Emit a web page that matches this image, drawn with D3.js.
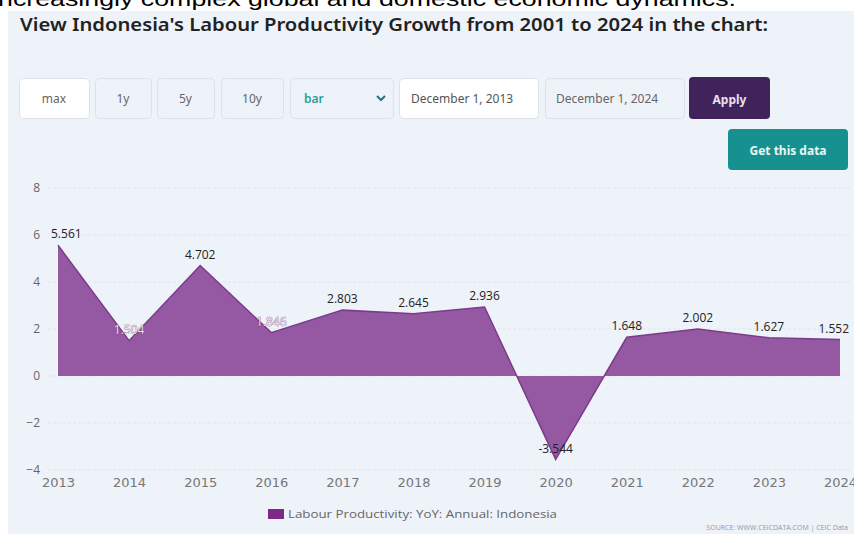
<!DOCTYPE html>
<html><head><meta charset="utf-8">
<script src="https://cdn.jsdelivr.net/npm/d3@7"></script>
<style>
html,body{margin:0;padding:0;background:#fff;}
svg{display:block;}
</style></head>
<body>
<svg id="c" width="854" height="534"></svg>
<script>
const years = ["2013","2014","2015","2016","2017","2018","2019","2020","2021","2022","2023","2024"];
const values = [5.561,1.504,4.702,1.846,2.803,2.645,2.936,-3.544,1.648,2.002,1.627,1.552];
const yTicks = [-4,-2,0,2,4,6,8];
const seriesName = "Labour Productivity: YoY: Annual: Indonesia";
const buttons = ["max","1y","5y","10y"];

const svg = d3.select("#c");
const W = 854, H = 534;

// page text cut at top
svg.append("text").attr("x",-2).attr("y",6)
  .attr("font-family","Liberation Sans, Arial").attr("font-size",21).attr("fill","#000")
  .attr("textLength",738).attr("lengthAdjust","spacingAndGlyphs")
  .text("ncreasingly complex global and domestic economic dynamics.");

// panel
svg.append("rect").attr("x",8).attr("y",11).attr("width",W-8).attr("height",H-11).attr("fill","#eef2f9");

svg.append("text").attr("x",20).attr("y",31)
  .attr("font-family","Noto Sans, Open Sans, sans-serif").attr("font-weight",600).attr("font-size",17)
  .attr("fill","#222").attr("textLength",748).attr("lengthAdjust","spacingAndGlyphs")
  .text("View Indonesia's Labour Productivity Growth from 2001 to 2024 in the chart:");

// controls
const ctrl = [
  {x:19,w:70,bg:"#fff",c:"#666"},
  {x:95,w:56,bg:"#eef2f9",c:"#666"},
  {x:157,w:57,bg:"#eef2f9",c:"#666"},
  {x:221,w:62,bg:"#eef2f9",c:"#666"},
];
ctrl.forEach((d,i)=>{
  svg.append("rect").attr("x",d.x+0.5).attr("y",78.5).attr("width",d.w).attr("height",40).attr("rx",4)
    .attr("fill",d.bg).attr("stroke","#dde2ea");
  svg.append("text").attr("x",d.x+d.w/2).attr("y",103).attr("text-anchor","middle")
    .attr("font-family","Noto Sans, sans-serif").attr("font-size",12).attr("fill",d.c).text(buttons[i]);
});
svg.append("rect").attr("x",290.5).attr("y",78.5).attr("width",103).attr("height",40).attr("rx",4)
  .attr("fill","#eef2f9").attr("stroke","#dde2ea");
svg.append("text").attr("x",304).attr("y",103).attr("font-family","Noto Sans, sans-serif")
  .attr("font-size",12).attr("font-weight",600).attr("fill","#2a9d96").text("bar");
svg.append("path").attr("d","M377,96 l4,4 l4,-4").attr("fill","none").attr("stroke","#2b6f8f").attr("stroke-width",2);

svg.append("rect").attr("x",399.5).attr("y",78.5).attr("width",139).attr("height",40).attr("rx",4)
  .attr("fill","#fff").attr("stroke","#dde2ea");
svg.append("text").attr("x",411).attr("y",103).attr("font-family","Noto Sans, sans-serif")
  .attr("font-size",12).attr("fill","#555").text("December 1, 2013");
svg.append("rect").attr("x",545.5).attr("y",78.5).attr("width",139).attr("height",40).attr("rx",4)
  .attr("fill","#eef2f9").attr("stroke","#dde2ea");
svg.append("text").attr("x",556).attr("y",103).attr("font-family","Noto Sans, sans-serif")
  .attr("font-size",12).attr("fill","#666").text("December 1, 2024");
svg.append("rect").attr("x",689).attr("y",77).attr("width",81).attr("height",42).attr("rx",4)
  .attr("fill","#40235a");
svg.append("text").attr("x",729.5).attr("y",104).attr("text-anchor","middle").attr("font-family","Noto Sans, sans-serif")
  .attr("font-size",12).attr("font-weight",700).attr("fill","#e8e0f0").text("Apply");
svg.append("rect").attr("x",728).attr("y",129).attr("width",120).attr("height",41).attr("rx",4)
  .attr("fill","#17918f");
svg.append("text").attr("x",788).attr("y",155).attr("text-anchor","middle").attr("font-family","Noto Sans, sans-serif")
  .attr("font-size",12).attr("font-weight",700).attr("fill","#e8f6f5").text("Get this data");

// chart
const x = d3.scalePoint().domain(years).range([58,840]);
const y = d3.scaleLinear().domain([-4,8]).range([470,188]);

const grid = svg.append("g");
yTicks.forEach(t=>{
  grid.append("line").attr("x1",48).attr("x2",850).attr("y1",y(t)).attr("y2",y(t))
    .attr("stroke","#e1e5ee").attr("stroke-width",1).attr("stroke-dasharray","3,2");
});

const yAxis = d3.axisLeft(y).tickValues(yTicks).tickSize(0).tickPadding(0).tickFormat(d=>d<0?"\u2212"+(-d):d);
const yg = svg.append("g").attr("transform","translate(40,0)").call(yAxis);
yg.select(".domain").remove();
yg.selectAll("text").attr("font-family","Open Sans, Noto Sans, sans-serif").attr("font-size",12).attr("fill","#666").attr("dy","0.32em");

const area = d3.area().x((d,i)=>x(years[i])).y0(y(0)).y1(d=>y(d));
svg.append("path").datum(values).attr("d",area).attr("fill","#9558a2");
const line = d3.line().x((d,i)=>x(years[i])).y(d=>y(d));
svg.append("path").datum(values).attr("d",line).attr("fill","none").attr("stroke","#7c3b8a").attr("stroke-width",1.5);

const xAxis = d3.axisBottom(x).tickSize(0).tickPadding(0);
const xg = svg.append("g").attr("transform","translate(0,478)").call(xAxis);
xg.select(".domain").remove();
xg.selectAll("text").attr("font-family","DejaVu Sans, sans-serif").attr("font-size",13).attr("fill","#777").attr("dy","0.71em");

// data labels
const light = new Set([1,3]);
values.forEach((v,i)=>{
  let xx = x(years[i]), anchor = "middle";
  if (i===0){ xx = 51; anchor = "start"; }
  if (i===values.length-1){ xx = 849; anchor = "end"; }
  let yy = y(v) - 7;
  if (v < 0) yy = y(v) - 6;
  const t = svg.append("text").attr("x",xx).attr("y",yy).attr("text-anchor",anchor)
    .attr("font-family","Open Sans, Noto Sans, sans-serif").attr("font-size",12)
    .text(v < 0 ? "-" + (-v).toFixed(3) : v.toFixed(3));
  if (light.has(i)) t.attr("fill","#ece2ee").attr("stroke","#5e3a68").attr("stroke-width",0.5).attr("paint-order","stroke");
  else t.attr("fill","#222");
});

// legend
svg.append("rect").attr("x",268).attr("y",509).attr("width",16).attr("height",10).attr("fill","#7b2a85");
svg.append("text").attr("x",288).attr("y",518).attr("font-family","Open Sans, Noto Sans, sans-serif")
  .attr("font-size",11).attr("fill","#666").attr("textLength",269).attr("lengthAdjust","spacingAndGlyphs").text(seriesName);

svg.append("text").attr("x",848).attr("y",530).attr("text-anchor","end").attr("font-family","Open Sans, sans-serif")
  .attr("font-size",7).attr("fill","#999").text("SOURCE: WWW.CEICDATA.COM | CEIC Data");
</script>
</body></html>
